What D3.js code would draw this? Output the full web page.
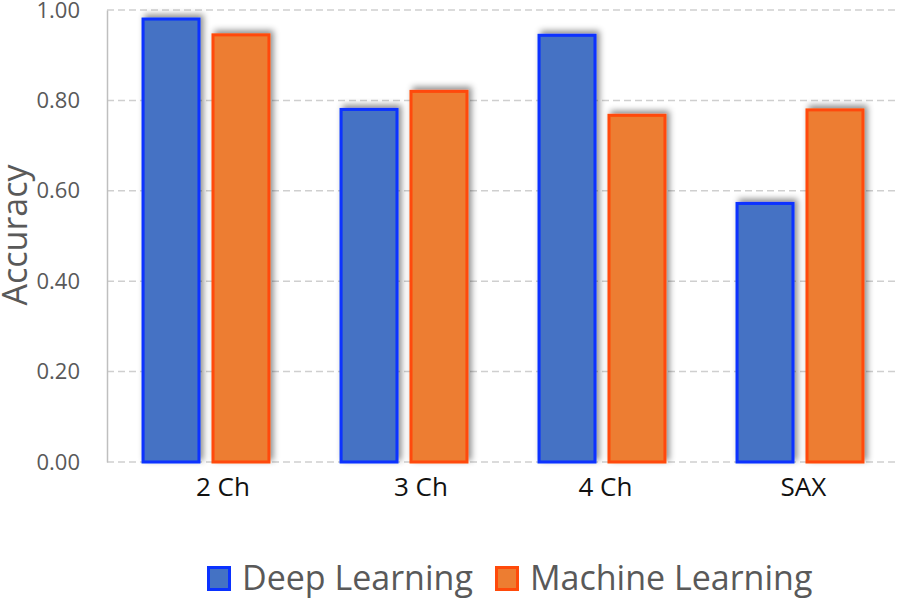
<!DOCTYPE html>
<html>
<head>
<meta charset="utf-8">
<script src="https://cdn.jsdelivr.net/npm/d3@7"></script>
<style>
    body { margin: 0; background: #fff; }
    text { font-family: "Open Sans", sans-serif; white-space: pre; }
</style>
</head>
<body>
<div id="chart"></div>
<script>
    // 数据
    const categories = ["     2 Ch", "     3 Ch", " 4 Ch", " SAX"];
    const seriesNames = ["Deep Learning", "Machine Learning"];
    const deepLearning = [0.98, 0.78, 0.944, 0.572];
    const machineLearning = [0.945, 0.82, 0.767, 0.779];
    const yTicks = [0, 0.2, 0.4, 0.6, 0.8, 1.0];

    const fills = ["#4472c4", "#ed7d31"];
    const strokes = ["#0a32ff", "#ff4a0a"];

    const width = 900, height = 599;
    const plotLeft = 107, plotRight = 899, plotTop = 10, plotBottom = 462;

    const svg = d3.select("#chart")
                  .append("svg")
                  .attr("width", width)
                  .attr("height", height);

    // 阴影
    const filter = svg.append("defs").append("filter")
                      .attr("id", "shadow")
                      .attr("x", "-20%").attr("y", "-20%")
                      .attr("width", "140%").attr("height", "140%");
    filter.append("feDropShadow")
          .attr("dx", 3).attr("dy", -3)
          .attr("stdDeviation", 3)
          .attr("flood-color", "#000")
          .attr("flood-opacity", 0.45);

    const x0 = d3.scaleBand()
                 .domain(categories)
                 .range([plotLeft, plotRight])
                 .paddingInner(0.364)
                 .paddingOuter(0.182);

    const x1 = d3.scaleBand()
                 .domain(seriesNames)
                 .range([0, x0.bandwidth()])
                 .paddingInner(0.2);

    const y = d3.scaleLinear()
                .domain([0, 1])
                .range([plotBottom, plotTop]);

    // 网格线
    svg.append("g")
       .selectAll("line")
       .data(yTicks)
       .enter()
       .append("line")
       .attr("x1", plotLeft)
       .attr("x2", plotRight)
       .attr("y1", d => y(d))
       .attr("y2", d => y(d))
       .attr("stroke", "#cfcfcf")
       .attr("stroke-width", 1.5)
       .attr("stroke-dasharray", "7,4");

    // y轴
    const yAxis = svg.append("g")
                     .attr("transform", `translate(${plotLeft},0)`)
                     .call(d3.axisLeft(y).tickValues(yTicks).tickFormat(d3.format(".2f")).tickSize(0).tickPadding(27));
    yAxis.select(".domain").attr("stroke", "#bfbfbf").attr("stroke-width", 1.5);
    yAxis.selectAll("text")
         .attr("font-size", 22)
         .attr("fill", "#595959")
         .attr("font-family", "Open Sans, sans-serif");

    // 柱子
    const rows = categories.map((c, i) => ({
        category: c,
        values: [deepLearning[i], machineLearning[i]]
    }));

    svg.append("g")
       .selectAll("g")
       .data(rows)
       .enter()
       .append("g")
       .attr("transform", d => `translate(${x0(d.category)},0)`)
       .selectAll("rect")
       .data(d => d.values.map((v, j) => ({ name: seriesNames[j], value: v, j: j })))
       .enter()
       .append("rect")
       .attr("x", d => x1(d.name))
       .attr("y", d => y(d.value))
       .attr("width", x1.bandwidth())
       .attr("height", d => y(0) - y(d.value))
       .attr("fill", d => fills[d.j])
       .attr("stroke", d => strokes[d.j])
       .attr("stroke-width", 3)
       .attr("filter", "url(#shadow)");

    // x轴标签
    const xAxis = svg.append("g")
                     .attr("transform", `translate(0,${plotBottom})`)
                     .call(d3.axisBottom(x0).tickSize(0).tickPadding(16));
    xAxis.select(".domain").remove();
    xAxis.selectAll("text")
         .attr("font-size", 26)
         .attr("fill", "#111")
         .attr("font-family", "Open Sans, sans-serif")
         .style("white-space", "pre");

    // y轴标题
    svg.append("text")
       .attr("transform", "translate(27,235) rotate(-90)")
       .attr("text-anchor", "middle")
       .attr("font-size", 34)
       .attr("fill", "#595959")
       .text("Accuracy");

    // 图例
    const legendX = [207, 495];
    const legend = svg.append("g")
                      .selectAll("g")
                      .data(seriesNames)
                      .enter()
                      .append("g")
                      .attr("transform", (d, i) => `translate(${legendX[i]},566)`);
    legend.append("rect")
          .attr("x", 1.5).attr("y", 1.5)
          .attr("width", 21).attr("height", 22)
          .attr("fill", (d, i) => fills[i])
          .attr("stroke", (d, i) => strokes[i])
          .attr("stroke-width", 3);
    legend.append("text")
          .attr("x", 35)
          .attr("y", 24)
          .attr("font-size", 34)
          .attr("fill", "#595959")
          .text(d => d);
</script>
</body>
</html>
